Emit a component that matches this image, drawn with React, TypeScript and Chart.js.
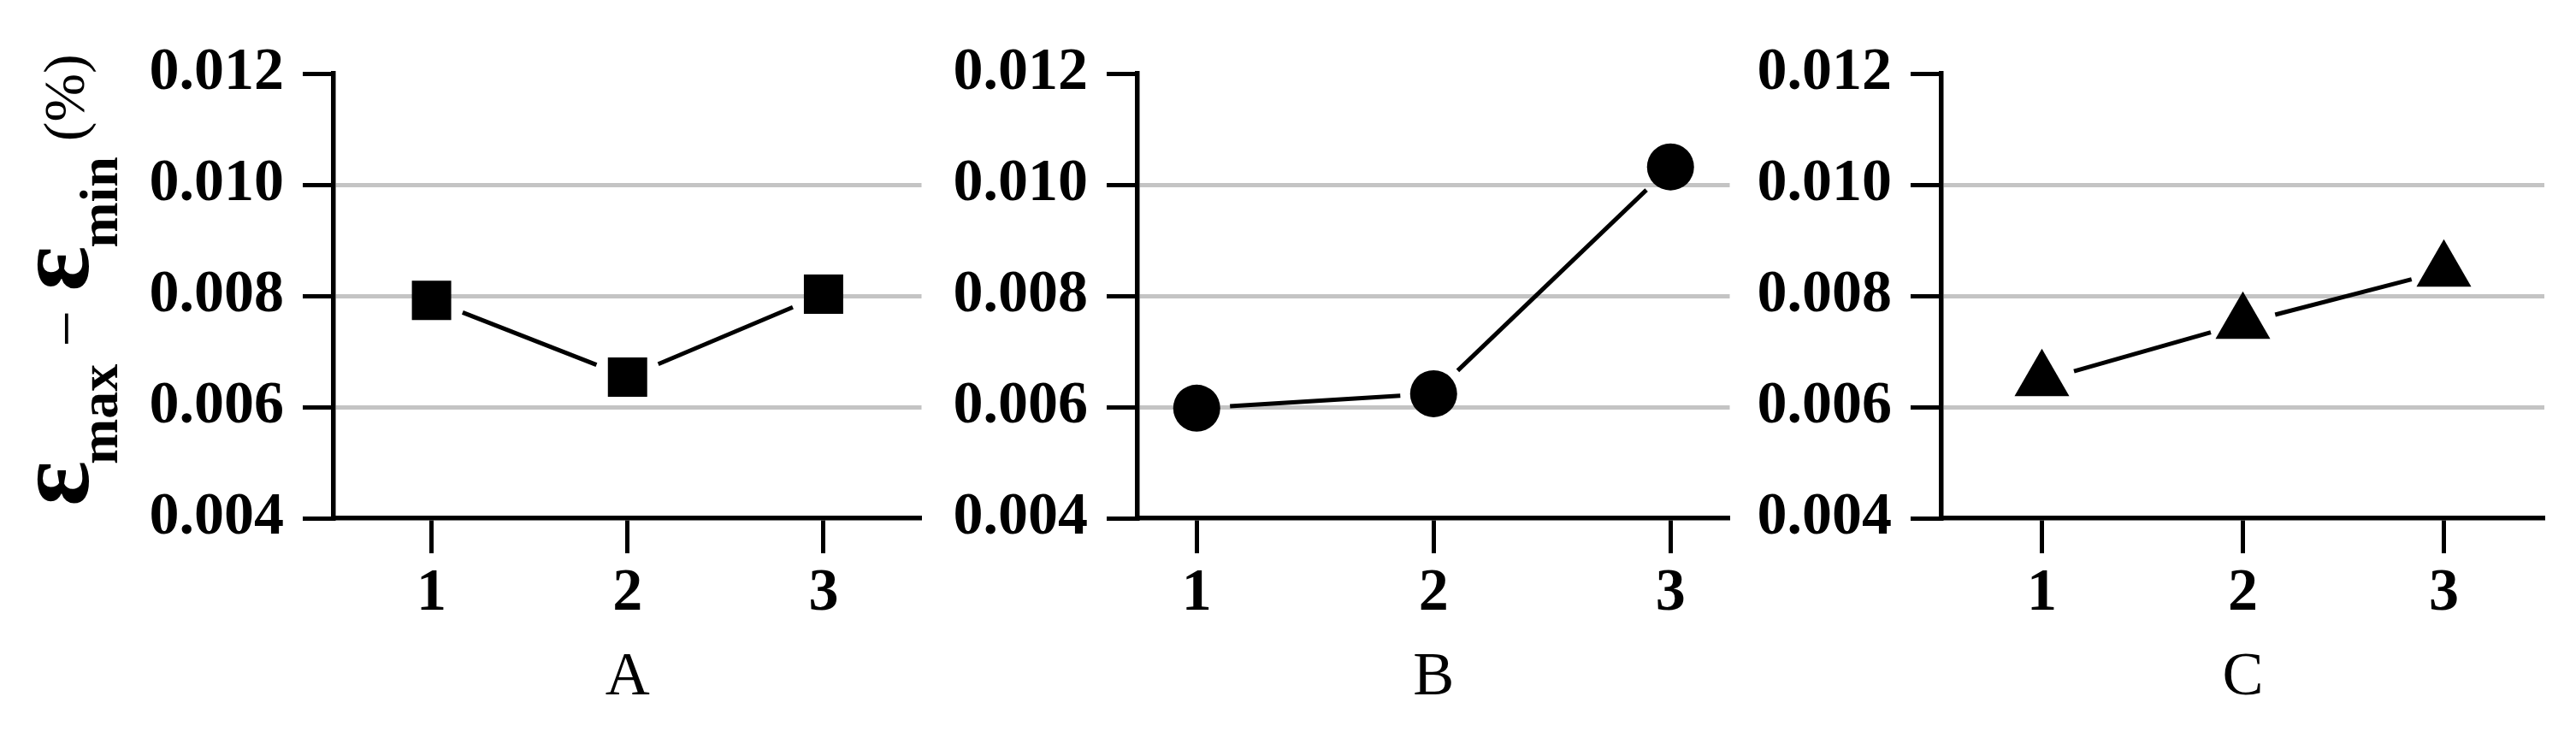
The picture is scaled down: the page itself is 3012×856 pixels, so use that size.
import React, { useEffect, useRef } from "react";
import { Chart, registerables } from "chart.js";

Chart.register(...registerables);

// ---- data ----
const levels = [1, 2, 3];
const factorNames = ["A", "B", "C"];
const valuesA = [0.00792, 0.00654, 0.00803];
const valuesB = [0.00598, 0.00624, 0.01032];
const valuesC = [0.00648, 0.00751, 0.00845];
const yTickValues = [0.004, 0.006, 0.008, 0.01, 0.012];
const yTitleParts = ["ε", "max", "−", "ε", "min", "(%)"];

const SERIF = '"Liberation Serif", "Times New Roman", serif';

// ---- panel layout / styles ----
const panels = [
  { name: factorNames[0], values: valuesA, style: "rect", radius: 32.5, left: 0, width: 1110, yWidth: 390, padRight: 5, xMin: 0.5, xMax: 3.5, title: true },
  { name: factorNames[1], values: valuesB, style: "circle", radius: 27.5, left: 1110, width: 940, yWidth: 220, padRight: 4, xMin: 0.75, xMax: 3.25, title: false },
  { name: factorNames[2], values: valuesC, style: "triangle", radius: 37, left: 2050, width: 962, yWidth: 220, padRight: 26, xMin: 0.5, xMax: 3.5, title: false },
];

const gapLinePlugin = {
  id: "gapLine",
  beforeDatasetsDraw(chart: any, _args: any, opts: any) {
    const ctx = chart.ctx;
    chart.data.datasets.forEach((_ds: any, i: number) => {
      const pts = chart.getDatasetMeta(i).data;
      ctx.save();
      ctx.strokeStyle = "#000";
      ctx.lineWidth = opts.width;
      ctx.lineCap = "butt";
      for (let k = 0; k < pts.length - 1; k++) {
        const a = pts[k];
        const b = pts[k + 1];
        const dx = b.x - a.x;
        const dy = b.y - a.y;
        const len = Math.hypot(dx, dy);
        const ux = dx / len;
        const uy = dy / len;
        ctx.beginPath();
        ctx.moveTo(a.x + ux * opts.gap, a.y + uy * opts.gap);
        ctx.lineTo(b.x - ux * opts.gap, b.y - uy * opts.gap);
        ctx.stroke();
      }
      ctx.restore();
    });
  },
};

const yTitlePlugin = {
  id: "yTitle",
  afterDraw(chart: any, _args: any, opts: any) {
    if (!opts || !opts.display) return;
    const { ctx, chartArea } = chart;
    ctx.save();
    ctx.translate(chartArea.left - 287, chartArea.bottom - 14);
    ctx.rotate(-Math.PI / 2);
    ctx.fillStyle = "#000";
    ctx.textAlign = "left";
    ctx.textBaseline = "alphabetic";
    const fmt = [
      { font: `bold 124px ${SERIF}`, dy: 0, gapAfter: -4 },
      { font: `bold 64px ${SERIF}`, dy: 34, gapAfter: 20 },
      { font: `76px ${SERIF}`, dy: 0, gapAfter: 22 },
      { font: `bold 124px ${SERIF}`, dy: 0, gapAfter: -2 },
      { font: `bold 64px ${SERIF}`, dy: 34, gapAfter: 18 },
      { font: `68px ${SERIF}`, dy: -5, gapAfter: 0 },
    ];
    let x = 0;
    yTitleParts.forEach((t, i) => {
      const f = fmt[i];
      ctx.font = f.font;
      ctx.fillText(t, x, f.dy);
      x += ctx.measureText(t).width + f.gapAfter;
    });
    ctx.restore();
  },
};

function Panel({ cfg }: { cfg: (typeof panels)[number] }) {
  const ref = useRef<HTMLCanvasElement | null>(null);
  useEffect(() => {
    if (!ref.current) return;
    const lastIdx = yTickValues.length - 1;
    const chart = new Chart(ref.current, {
      type: "scatter",
      data: {
        datasets: [
          {
            data: levels.map((l, i) => ({ x: l, y: cfg.values[i] })),
            showLine: false,
            pointStyle: cfg.style as any,
            pointRadius: cfg.radius,
            pointHoverRadius: cfg.radius,
            pointBackgroundColor: "#000",
            pointBorderColor: "#000",
            pointBorderWidth: 0,
          },
        ],
      },
      options: {
        animation: false,
        responsive: false,
        devicePixelRatio: 1,
        layout: { padding: { top: 86, right: cfg.padRight, bottom: 0, left: 0 } },
        plugins: {
          legend: { display: false },
          tooltip: { enabled: false },
          gapLine: { gap: 39, width: 5 },
          yTitle: { display: cfg.title },
        } as any,
        scales: {
          x: {
            type: "linear",
            min: cfg.xMin,
            max: cfg.xMax,
            afterBuildTicks: (s: any) => {
              s.ticks = levels.map((v) => ({ value: v }));
            },
            afterFit: (s: any) => {
              s.height = 250;
            },
            grid: {
              drawOnChartArea: false,
              drawTicks: true,
              tickLength: 41,
              tickColor: "#000",
              tickWidth: 5,
              color: "#000",
            },
            border: { display: true, color: "#000", width: 5.5 },
            ticks: {
              color: "#000",
              padding: 6,
              font: { family: SERIF, size: 70, weight: "bold" },
              callback: (v: any) => String(v),
            },
            title: {
              display: true,
              text: cfg.name,
              color: "#000",
              font: { family: SERIF, size: 72, weight: "normal" },
              padding: { top: 0, bottom: 20 },
            },
          },
          y: {
            type: "linear",
            min: yTickValues[0],
            max: yTickValues[lastIdx],
            afterBuildTicks: (s: any) => {
              s.ticks = yTickValues.map((v) => ({ value: v }));
            },
            afterFit: (s: any) => {
              s.width = cfg.yWidth;
            },
            grid: {
              color: (c: any) => (c.index === 0 || c.index === lastIdx ? "rgba(0,0,0,0)" : "#c4c4c4"),
              lineWidth: 5,
              drawTicks: true,
              tickLength: 36,
              tickColor: "#000",
              tickWidth: 5,
            },
            border: { display: true, color: "#000", width: 5.5 },
            ticks: {
              color: "#000",
              padding: 22,
              font: { family: SERIF, size: 70, weight: "bold" },
              callback: (v: any) => Number(v).toFixed(3),
            },
          },
        },
      },
      plugins: [gapLinePlugin, yTitlePlugin],
    });
    return () => chart.destroy();
  }, [cfg]);
  return (
    <canvas
      ref={ref}
      width={cfg.width}
      height={856}
      style={{ position: "absolute", left: cfg.left, top: 0, width: cfg.width, height: 856 }}
    />
  );
}

export default function App() {
  return (
    <div style={{ position: "absolute", left: 0, top: 0, width: 3012, height: 856, background: "#fff", overflow: "hidden" }}>
      {panels.map((p) => (
        <Panel key={p.name} cfg={p} />
      ))}
    </div>
  );
}
